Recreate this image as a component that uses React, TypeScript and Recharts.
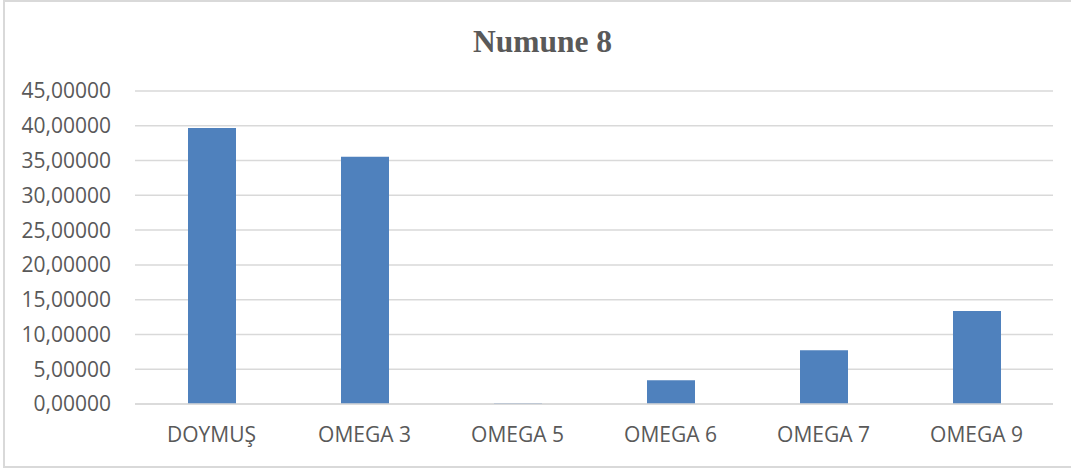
import React from 'react';
import { BarChart, Bar, XAxis, YAxis, CartesianGrid } from 'recharts';

const categories = ['DOYMUŞ', 'OMEGA 3', 'OMEGA 5', 'OMEGA 6', 'OMEGA 7', 'OMEGA 9'];
const values = [39.68, 35.55, 0.1, 3.41, 7.72, 13.37];
const yTicks = [0, 5, 10, 15, 20, 25, 30, 35, 40, 45];

const data = categories.map((name, i) => ({ name, value: values[i] }));

const textColor = '#595959';
const gridColor = '#d9d9d9';
const barColor = '#4f81bd';

const fmt = (v: number) => v.toFixed(5).replace('.', ',');

export default function App() {
  return (
    <div style={{ position: 'absolute', left: 0, top: 0, width: 1071, height: 468, overflow: 'hidden', background: '#fff' }}>
      {/* outer frame, runs off the right edge like the source */}
      <div
        style={{
          position: 'absolute',
          left: 3,
          top: 0,
          width: 1090,
          height: 464,
          border: `2px solid ${gridColor}`,
        }}
      />
      <div
        style={{
          position: 'absolute',
          left: 0,
          width: 1085,
          top: 26,
          textAlign: 'center',
          fontFamily: '"Liberation Serif", serif',
          fontWeight: 'bold',
          fontSize: 31.5,
          lineHeight: '31px',
          color: textColor,
        }}
      >
        Numune 8
      </div>
      <div style={{ position: 'absolute', left: 0, top: 0 }}>
        <BarChart
          width={1071}
          height={468}
          data={data}
          margin={{ top: 91, right: 18, bottom: 0, left: 0 }}
          barSize={48}
          style={{ fontFamily: '"Open Sans", sans-serif' }}
        >
          <CartesianGrid vertical={false} stroke={gridColor} strokeWidth={1.5} />
          <XAxis
            dataKey="name"
            height={64}
            axisLine={{ stroke: gridColor, strokeWidth: 1.5 }}
            tickLine={false}
            tickSize={0}
            tickMargin={23}
            tick={{ fill: textColor, fontSize: 21 }}
          />
          <YAxis
            width={135}
            domain={[0, 45]}
            ticks={yTicks}
            axisLine={false}
            tickLine={false}
            tickSize={0}
            tickMargin={24}
            tickFormatter={fmt}
            tick={{ fill: textColor, fontSize: 21 }}
          />
          <Bar dataKey="value" fill={barColor} isAnimationActive={false} />
        </BarChart>
      </div>
    </div>
  );
}
